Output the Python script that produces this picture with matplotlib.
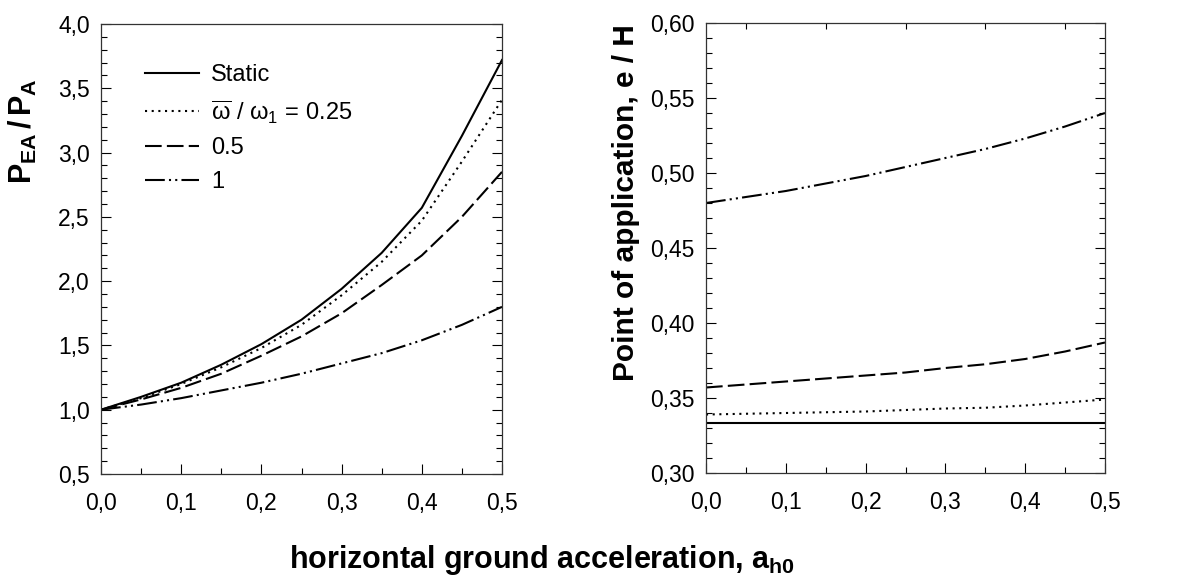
import matplotlib
matplotlib.use("Agg")
import matplotlib.pyplot as plt
from matplotlib.ticker import MultipleLocator, FuncFormatter

plt.rcParams['font.family'] = ['Liberation Sans', 'DejaVu Sans']
plt.rcParams['mathtext.fontset'] = 'custom'
plt.rcParams['mathtext.rm'] = 'Liberation Sans'
plt.rcParams['mathtext.it'] = 'Liberation Sans'
plt.rcParams['mathtext.bf'] = 'Liberation Sans:bold'

# ---------------- data ----------------
a_h0 = [0.0, 0.05, 0.1, 0.15, 0.2, 0.25, 0.3, 0.35, 0.4, 0.45, 0.5]

# Left panel: P_EA / P_A
pea_static = [1.00, 1.10, 1.21, 1.35, 1.51, 1.70, 1.94, 2.22, 2.57, 3.13, 3.72]
pea_025    = [1.00, 1.09, 1.20, 1.33, 1.48, 1.66, 1.89, 2.15, 2.47, 2.93, 3.41]
pea_05     = [1.00, 1.08, 1.17, 1.28, 1.42, 1.57, 1.75, 1.97, 2.20, 2.50, 2.85]
pea_1      = [1.00, 1.04, 1.09, 1.15, 1.21, 1.28, 1.36, 1.44, 1.54, 1.66, 1.80]

# Right panel: e / H
eh_static = [0.3335] * 11
eh_025    = [0.339, 0.3395, 0.340, 0.3405, 0.341, 0.342, 0.343, 0.3435, 0.345, 0.347, 0.349]
eh_05     = [0.357, 0.359, 0.361, 0.363, 0.365, 0.367, 0.370, 0.3725, 0.376, 0.381, 0.387]
eh_1      = [0.480, 0.484, 0.488, 0.493, 0.498, 0.504, 0.510, 0.516, 0.523, 0.531, 0.540]

labels = ['Static', r'$\overline{\omega}\ /\ \omega_1\,=\,0.25$', '0.5', '1']

# ---------------- styles ----------------
LW = 1.5
styles = ['-', (0, (1, 2.2)), (0, (8, 2.5)), (0, (9.5, 2, 1, 2, 1, 2))]

W, H = 1203, 576
fig = plt.figure(figsize=(W / 100, H / 100), dpi=100)

axL = fig.add_axes([101 / W, (H - 474) / H, 401 / W, 450 / H])
axR = fig.add_axes([706 / W, (H - 473) / H, 399 / W, 450 / H])

for ys, ls, lab in zip([pea_static, pea_025, pea_05, pea_1], styles, labels):
    axL.plot(a_h0, ys, color='black', lw=LW, linestyle=ls, label=lab)
for ys, ls in zip([eh_static, eh_025, eh_05, eh_1], styles):
    axR.plot(a_h0, ys, color='black', lw=LW, linestyle=ls)

def fmt(dec):
    return FuncFormatter(lambda v, p: f"{v:.{dec}f}".replace('.', ','))

TICK_FS = 16.5
for ax in (axL, axR):
    ax.set_xlim(0, 0.5)
    ax.xaxis.set_major_locator(MultipleLocator(0.1))
    ax.xaxis.set_minor_locator(MultipleLocator(0.05))
    ax.xaxis.set_major_formatter(fmt(1))
    ax.tick_params(which='both', direction='in', left=True, right=True,
                   bottom=True, top=False, labelsize=TICK_FS, colors='black')
    ax.tick_params(which='major', length=7, width=0.8)
    ax.tick_params(which='minor', length=4, width=0.8)
    ax.tick_params(axis='x', which='major', pad=13)
    ax.tick_params(axis='y', which='major', pad=8)
    for sp in ax.spines.values():
        sp.set_linewidth(0.9)
        sp.set_color('#333333')

axL.set_ylim(0.5, 4.0)
axL.yaxis.set_major_locator(MultipleLocator(0.5))
axL.yaxis.set_minor_locator(MultipleLocator(0.1))
axL.yaxis.set_major_formatter(fmt(1))

axR.set_ylim(0.30, 0.60)
axR.yaxis.set_major_locator(MultipleLocator(0.05))
axR.yaxis.set_minor_locator(MultipleLocator(0.01))
axR.yaxis.set_major_formatter(fmt(2))
axR.tick_params(axis='x', which='minor', top=True)

LABEL_FS = 22
axL.set_ylabel(r'$\mathbf{P}_{\mathbf{EA}}\,\mathbf{/}\,\mathbf{P}_{\mathbf{A}}$',
               fontsize=LABEL_FS)
axL.yaxis.set_label_coords((23 - 101) / 401, (474 - 131) / 450)
axL.yaxis.label.set_va('center')
axR.set_ylabel('Point of application, e / H', fontsize=21.5,
               fontweight='bold')
axR.yaxis.set_label_coords((626 - 706) / 399, (473 - 203) / 450)
axR.yaxis.label.set_va('center')

fig.text(542 / W, (H - 568) / H, r'horizontal ground acceleration, a$_{\mathbf{h0}}$',
         ha='center', va='baseline', fontsize=LABEL_FS, fontweight='bold')

leg = axL.legend(loc='upper left', bbox_to_anchor=((145 - 101) / 401, (474 - 64) / 450),
                 frameon=False, fontsize=17, handlelength=2.3, handletextpad=0.5,
                 labelspacing=0.5, borderaxespad=0, borderpad=0)

fig.savefig('out.png', dpi=100)
